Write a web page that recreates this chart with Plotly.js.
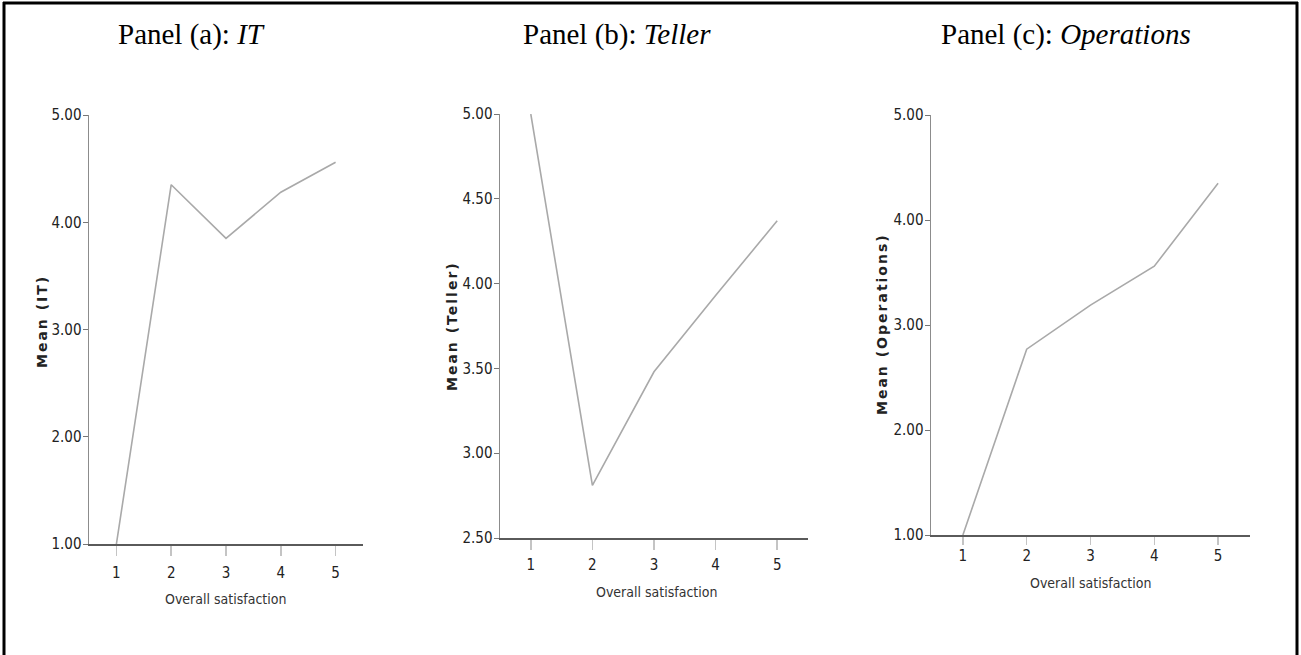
<!DOCTYPE html>
<html>
<head>
<meta charset="utf-8">
<script src="https://cdn.plot.ly/plotly-3.0.1.min.js"></script>
<style>
html, body { margin: 0; padding: 0; background: #fff; }
#chart { width: 1301px; height: 655px; }
g.xtick text, g.x2tick text, g.x3tick text, g.ytick text, g.y2tick text, g.y3tick text { font-stretch: condensed; }
g.annotation[data-index="3"] text, g.annotation[data-index="4"] text, g.annotation[data-index="5"] text { letter-spacing: 2px; }
</style>
</head>
<body>
<div id="chart"></div>
<script>
// ---- data ----
var satisfaction = [1, 2, 3, 4, 5];
var meanIT = [1.00, 4.35, 3.85, 4.28, 4.56];
var meanTeller = [5.00, 2.81, 3.48, 3.93, 4.37];
var meanOperations = [1.00, 2.77, 3.19, 3.56, 4.35];
var xTickLabels = ['1', '2', '3', '4', '5'];
var panelTitles = ['Panel (a): <i>IT</i>', 'Panel (b): <i>Teller</i>', 'Panel (c): <i>Operations</i>'];
var yTitles = ['Mean (IT)', 'Mean (Teller)', 'Mean (Operations)'];
var xTitle = 'Overall satisfaction';

// ---- layout helpers (pixel -> paper) ----
var W = 1301, H = 655;
function px(x) { return x / W; }
function py(y) { return 1 - y / H; }

var lineStyle = { color: '#a9a9a9', width: 1.6 };
function trace(y, ax) {
  return { x: satisfaction, y: y, type: 'scatter', mode: 'lines', line: lineStyle,
           xaxis: 'x' + ax, yaxis: 'y' + ax, hoverinfo: 'x+y', showlegend: false };
}
var data = [trace(meanIT, ''), trace(meanTeller, '2'), trace(meanOperations, '3')];

var condensed = 'DejaVu Sans Condensed, Liberation Sans Narrow, Arial Narrow, DejaVu Sans, sans-serif';
var tickFont = { family: condensed, size: 15, color: '#222' };
function xAxis(x0, x1, anchor, ticklen, standoff) {
  return { domain: [px(x0), px(x1)], anchor: anchor, range: [0.5, 5.5], tickmode: 'array',
           tickvals: satisfaction, ticktext: xTickLabels, showgrid: false, zeroline: false,
           showline: true, linecolor: '#5a5a5a', linewidth: 2, ticks: 'outside', ticklen: ticklen,
           ticklabelstandoff: standoff,
           tickcolor: '#c4c4c4', tickwidth: 1.5, tickfont: tickFont, fixedrange: true };
}
function yAxis(y0, y1, anchor, range, dtick) {
  return { domain: [py(y1), py(y0)], anchor: anchor, range: range, dtick: dtick, tick0: range[0],
           tickformat: '.2f', showgrid: false, zeroline: false, showline: true, linecolor: '#8c8c8c',
           linewidth: 1.5, ticks: 'outside', ticklen: 5, tickcolor: '#777', tickwidth: 1,
           ticklabelstandoff: -2, tickfont: tickFont, fixedrange: true };
}

var titleFont = { family: 'Liberation Serif, Times New Roman, serif', size: 29, color: '#000' };
var yTitleFont = { family: 'DejaVu Sans, Arial, sans-serif', size: 14, color: '#222', weight: 'bold' };
var xTitleFont = { family: condensed, size: 14, color: '#333' };

function ann(text, x, y, font, angle) {
  return { text: text, xref: 'paper', yref: 'paper', x: px(x), y: py(y), xanchor: 'center',
           yanchor: 'middle', showarrow: false, font: font, textangle: angle || 0 };
}

var layout = {
  width: W, height: H,
  margin: { l: 0, r: 0, t: 0, b: 0 },
  paper_bgcolor: '#fff', plot_bgcolor: '#fff',
  showlegend: false,
  xaxis: xAxis(89, 363, 'y', 10, 4),
  yaxis: yAxis(115, 544, 'x', [1, 5], 1),
  xaxis2: xAxis(500, 808, 'y2', 10, 2),
  yaxis2: yAxis(114, 538, 'x2', [2.5, 5], 0.5),
  xaxis3: xAxis(931, 1250, 'y3', 8, -2),
  yaxis3: yAxis(115, 535, 'x3', [1, 5], 1),
  annotations: [
    ann(panelTitles[0], 192, 35, titleFont),
    ann(panelTitles[1], 617, 35, titleFont),
    ann(panelTitles[2], 1066, 35, titleFont),
    ann(yTitles[0], 42, 322, yTitleFont, -90),
    ann(yTitles[1], 452, 326, yTitleFont, -90),
    ann(yTitles[2], 882, 324, yTitleFont, -90),
    ann(xTitle, 225, 599, xTitleFont),
    ann(xTitle, 656, 592, xTitleFont),
    ann(xTitle, 1090, 583, xTitleFont)
  ],
  shapes: [
    { type: 'line', xref: 'paper', yref: 'paper', x0: px(4), x1: px(4), y0: 0, y1: py(2), line: { color: '#000', width: 3 } },
    { type: 'line', xref: 'paper', yref: 'paper', x0: px(3), x1: px(1298), y0: py(3), y1: py(3), line: { color: '#000', width: 3 } },
    { type: 'line', xref: 'paper', yref: 'paper', x0: px(1297), x1: px(1297), y0: 0, y1: py(2), line: { color: '#000', width: 3 } }
  ]
};

Plotly.newPlot('chart', data, layout, { displayModeBar: false, staticPlot: true });
</script>
</body>
</html>
